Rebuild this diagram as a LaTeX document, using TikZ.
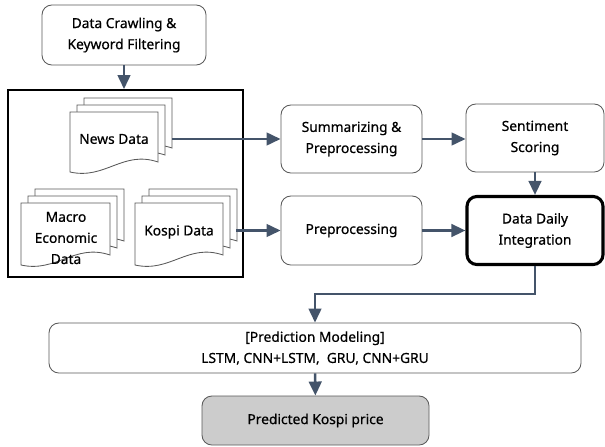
\documentclass[tikz,border=0pt]{standalone}
\usepackage{fontspec}
\setmainfont{Noto Sans}[UprightFeatures={FakeBold=0.6}]
\usepackage{tikz}
\usepackage{xcolor}
\usetikzlibrary{arrows.meta,shapes,positioning}

\definecolor{flujo}{HTML}{44546A}
\definecolor{borde}{HTML}{595959}
\definecolor{gris}{HTML}{CCCCCC}

\newlength{\pxu}
\setlength{\pxu}{0.025cm}

% hoja con borde ondulado: x, y, ancho, alto
\newcommand{\hoja}[4]{%
  \filldraw[fill=white, draw=borde, line width=0.6pt]
    (#1,#2) -- (#1+#3,#2) -- (#1+#3,#2+#4-10)
    .. controls (#1+0.6*#3,#2+#4-22) and (#1+0.4*#3,#2+#4+8) .. (#1,#2+#4) -- cycle;
}

\tikzset{
  caja/.style={draw=borde, line width=0.6pt, rounded corners=7pt, fill=white,
    align=center, inner sep=0pt},
  flecha/.style={draw=flujo, line width=1.8pt, -{Triangle[length=10pt,width=9pt]}},
  every node/.style={font=\fontsize{9.8}{15}\selectfont},
}

\begin{document}
\begin{tikzpicture}[x=\pxu, y=-\pxu]
  \useasboundingbox (0,0) rectangle (605,447);

  % cajas del proceso
  \node[caja, minimum width=164\pxu, minimum height=60\pxu] (crawl) at (124,35)
    {Data Crawling \&\\Keyword Filtering};
  \node[draw=black, line width=1.3pt, minimum width=235\pxu, minimum height=187\pxu,
    inner sep=0pt] (panel) at (125.5,183.5) {};
  \node[caja, minimum width=141\pxu, minimum height=68\pxu] (summ) at (351.5,139)
    {Summarizing \&\\Preprocessing};
  \node[caja, minimum width=138\pxu, minimum height=68\pxu] (senti) at (535,138)
    {Sentiment\\Scoring};
  \node[caja, minimum width=141\pxu, minimum height=69\pxu] (prep) at (351.5,230.5)
    {Preprocessing};
  \node[caja, draw=black, line width=2.2pt, minimum width=136\pxu, minimum height=68\pxu]
    (integ) at (535,230.5) {Data Daily\\Integration};
  \node[caja, minimum width=532\pxu, minimum height=50\pxu] (model) at (315,348)
    {[Prediction Modeling]\\LSTM, CNN+LSTM,\ \ GRU, CNN+GRU};
  \node[caja, fill=gris, minimum width=227\pxu, minimum height=49\pxu] (pred) at (315.5,420.5)
    {Predicted Kospi price};

  % pilas de hojas
  \foreach \d in {14,7,0} {
    \hoja{70+\d}{112-\d}{88}{60}
    \hoja{21+\d}{203-\d}{89}{62}
    \hoja{135+\d}{203-\d}{88}{62}
  }
  \node (news) at (114,139) {News Data};
  \node[align=center] (macro) at (66,238) {Macro\\Economic\\Data};
  \node (kospi) at (179,232) {Kospi Data};
  \coordinate (newsR) at (172,139);
  \coordinate (kospiR) at (236,230.5);

  % flechas
  \draw[flecha] (crawl) -- (crawl |- panel.north);
  \draw[flecha] (newsR) -- (newsR -| summ.west);
  \draw[flecha] (kospiR) -- (kospiR -| prep.west);
  \draw[flecha] (summ) -- (summ -| senti.west);
  \draw[flecha] (senti) -- (integ);
  \draw[flecha] (prep) -- (integ);
  \draw[flecha] (integ.south) -- ++(0,28) -| (model.north);
  \draw[flecha] (model) -- (pred);
\end{tikzpicture}
\end{document}
